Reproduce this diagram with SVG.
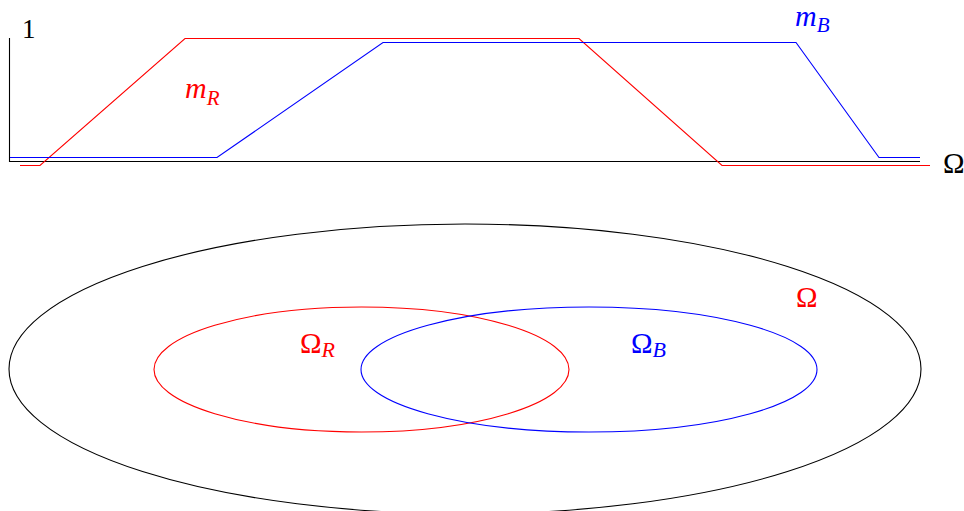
<svg xmlns="http://www.w3.org/2000/svg" width="964" height="511" viewBox="0 0 964 511">
<style>
  text { font-family: "Liberation Serif", "DejaVu Serif", serif; }
  .it { font-style: italic; }
  .red { fill: #ff0000; }
  .blue { fill: #0000ff; }
  .blk { fill: #000000; }
  .ln { fill: none; stroke-width: 1.1; }
</style>
<rect width="964" height="511" fill="#ffffff"/>
<g id="plot">
  <g id="axes">
    <polyline class="ln" stroke="#000" points="9.5,38 9.5,161.5 920,161.5"/>
    <text class="blk" x="22" y="38" font-size="27">1</text>
    <text class="blk" x="943" y="173" font-size="29">Ω</text>
  </g>
  <g id="mR">
    <polyline class="ln" stroke="#ff0000" points="20,165.5 40,165.5 185,38.5 579,38.5 722,165.5 930,165.5"/>
    <text class="red it" x="185" y="98" font-size="30">m<tspan font-size="21" dy="7">R</tspan></text>
  </g>
  <g id="mB">
    <polyline class="ln" stroke="#0000ff" points="10,157.5 217,157.5 383,42.5 796,42.5 879,157.5 920,157.5"/>
    <text class="blue it" x="795" y="26" font-size="30">m<tspan font-size="21" dy="6">B</tspan></text>
  </g>
</g>
<g id="omega">
  <ellipse class="ln" stroke="#000" cx="465" cy="369" rx="456" ry="145"/>
  <text class="red" x="796" y="307" font-size="29">Ω</text>
</g>
<g id="omegaR">
  <ellipse class="ln" stroke="#ff0000" cx="361.5" cy="369.5" rx="207.5" ry="62.5"/>
  <text class="red" x="300" y="353" font-size="29">Ω<tspan class="it" font-size="22" dy="4">R</tspan></text>
</g>
<g id="omegaB">
  <ellipse class="ln" stroke="#0000ff" cx="589" cy="369.5" rx="228" ry="62.5"/>
  <text class="blue" x="631" y="353" font-size="29">Ω<tspan class="it" font-size="22" dy="4">B</tspan></text>
</g>
</svg>
